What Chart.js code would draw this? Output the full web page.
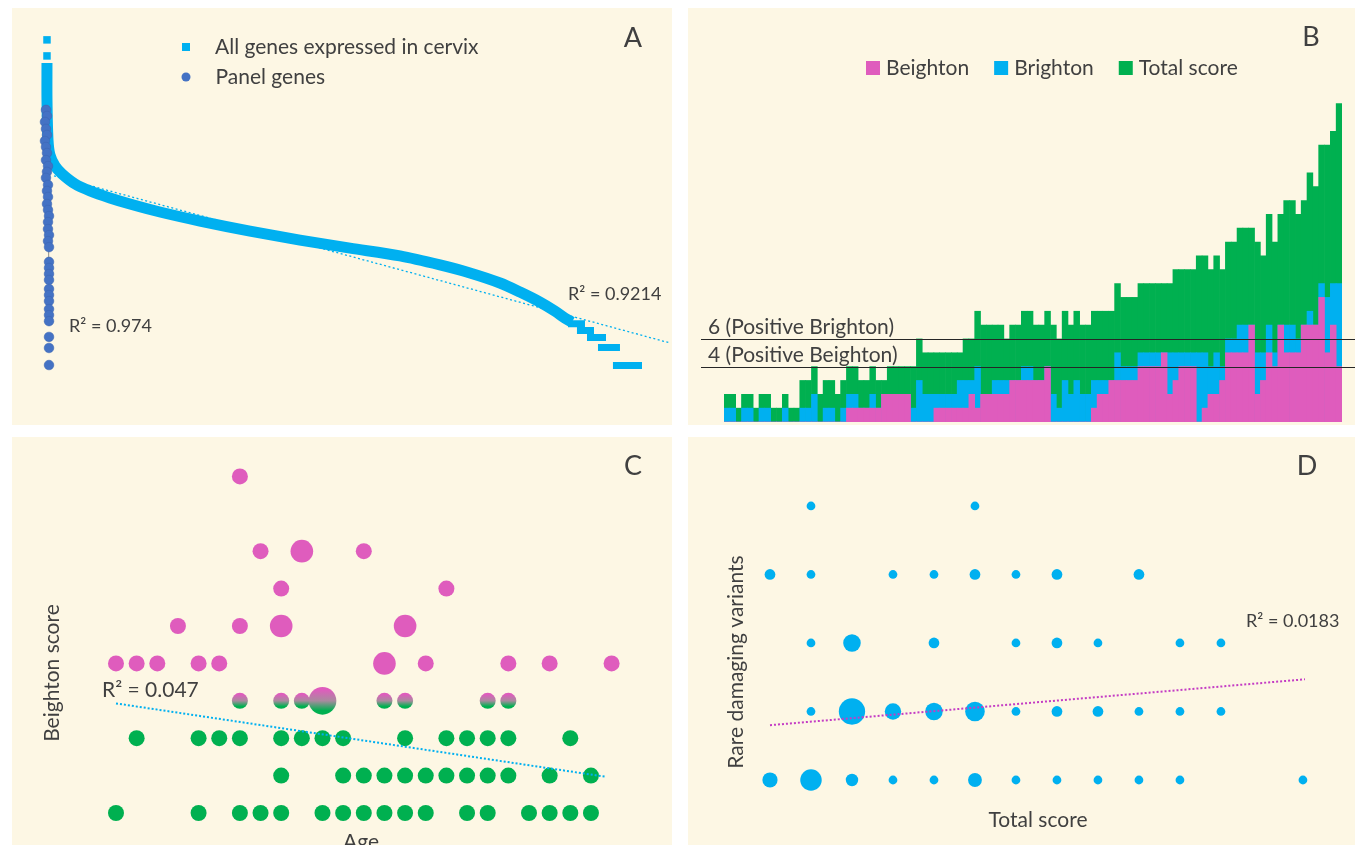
<!DOCTYPE html>
<html>
<head>
<meta charset="utf-8">
<script src="https://cdn.jsdelivr.net/npm/chart.js@4.4.1/dist/chart.umd.min.js"></script>
<style>
  body { margin: 0; background: #fff; width: 1357px; height: 845px; overflow: hidden; position: relative; }
  .panel { position: absolute; background: #fdf7e4; overflow: hidden; }
  canvas { display: block; }
</style>
</head>
<body>
<div class="panel" style="left:12px;top:8px;width:660px;height:417px"><canvas id="chartA" width="660" height="417"></canvas></div>
<div class="panel" style="left:688px;top:8px;width:667px;height:417px"><canvas id="chartB" width="667" height="417"></canvas></div>
<div class="panel" style="left:12px;top:437px;width:660px;height:408px"><canvas id="chartC" width="660" height="408"></canvas></div>
<div class="panel" style="left:688px;top:437px;width:667px;height:408px"><canvas id="chartD" width="667" height="408"></canvas></div>

<script>
// ---- A: expression rank curve (x = rank percentile, y = log expression) ----
var topRank = [0.17, 0.17];
var topExpr = [13.0, 12.36];
var geneRank = [0.17, 0.17, 0.34, 0.67, 1.52, 2.69, 4.88, 7.41, 10.77, 14.14, 19.19, 25.93, 34.34, 42.76, 51.18, 59.60, 66.33, 71.38, 76.43, 79.80, 83.16, 85.69, 87.37, 88.55];
var geneExpr = [12.08, 10.61, 9.01, 8.41, 7.97, 7.66, 7.26, 6.98, 6.70, 6.46, 6.14, 5.78, 5.38, 5.02, 4.70, 4.39, 4.03, 3.71, 3.31, 2.95, 2.55, 2.19, 1.91, 1.75];
var tailStart = [87.88, 89.39, 91.08, 92.93, 95.45];
var tailEnd = [90.74, 92.26, 94.28, 96.63, 100.34];
var tailExpr = [1.69, 1.42, 1.14, 0.74, 0.02];
var panelRank = [0, 0.17, -0.17, 0, 0.17, -0.17, 0, 0.17, 0, 0.34, 0.17, 0, 0.34, 0.17, 0.34, 0.17, 0.34, 0.51, 0.34, 0.34, 0.51, 0.34, 0.51, 0.51, 0.51, 0.51, 0.51, 0.51, 0.51, 0.51, 0.51, 0.51, 0.51, 0.51, 0.51, 0.51];
var panelExpr = [10.21, 9.97, 9.73, 9.45, 9.21, 8.97, 8.73, 8.49, 8.21, 7.97, 7.74, 7.50, 7.22, 6.98, 6.74, 6.46, 6.22, 5.98, 5.74, 5.46, 5.22, 4.98, 4.74, 4.15, 3.91, 3.67, 3.43, 3.07, 2.83, 2.59, 2.27, 2.03, 1.79, 1.16, 0.72, 0.04];
var panelFitRank = [0.34, 0.51];
var panelFitExpr = [10.4, 1.6];
var allFitRank = [1.35, 105.05];
var allFitExpr = [7.58, 0.92];

// ---- B: scores per participant ----
var beighton = [0,0,0,0,0,0,0,0,0,0, 0,0,0,0,0,0,0,0,0,0, 0,1,1,1,1,1,1,2,2,2, 2,2,0,0,0,0,1,1,1,1,
  1,1,2,1,2,2,2,2,2,3, 3,3,3,3,3,4,0,0,0,0, 0,0,0,1,2,2,3,3,3,3, 3,4,4,4,4,5,2,3,4,4,
  4,0,1,2,2,3,5,5,5,5, 7,2,3,5,4,7,5,5,5,7, 7,7,9,5,7,4];
var brighton = [1,1,0,1,1,0,1,1,0,0, 1,0,0,1,1,2,0,1,1,0, 1,2,2,1,1,2,1,2,2,2, 2,2,1,3,2,2,2,2,2,2,
  3,3,3,4,2,2,3,3,3,3, 3,4,4,3,3,4,2,1,3,2, 3,2,2,3,3,3,3,5,4,4, 4,5,5,5,5,5,5,5,5,5,
  5,5,5,4,5,4,6,6,7,7, 7,5,5,7,5,7,7,7,6,7, 8,7,10,9,10,10];
var totalScore = [2,2,1,2,2,1,2,2,1,1, 2,1,1,3,3,4,2,3,3,2, 3,4,4,3,3,4,3,3,4,4, 4,4,4,6,5,5,5,5,5,5,
  5,6,6,8,7,7,7,7,6,7, 7,8,8,7,7,8,7,6,8,7, 8,7,7,8,8,8,8,10,9,9, 9,10,10,10,10,10,10,11,11,11,
  11,12,12,11,12,11,13,13,14,14, 14,13,12,15,13,15,16,16,15,16, 18,17,20,20,21,23];
var thresholds = [4, 6];
var thresholdLabels = ['4 (Positive Beighton)', '6 (Positive Brighton)'];

// ---- C: Beighton score by age group ----
var cAge = [0,4,6,7,8,10,11,12,13,14,15,17,18,20,21,22,23,
  8,11,12,13,14,15,16,17,18,19,21,23,
  1,4,5,6,8,9,10,11,14,16,17,18,19,22,
  6,8,9,10,13,14,18,19,
  0,1,2,4,5,13,15,19,21,24,
  3,6,8,14, 8,16, 7,9,12, 6];
var cScore = [0,0,0,0,0,0,0,0,0,0,0,0,0,0,0,0,0,
  1,1,1,1,1,1,1,1,1,1,1,1,
  2,2,2,2,2,2,2,2,2,2,2,2,2,2,
  3,3,3,3,3,3,3,3,
  4,4,4,4,4,4,4,4,4,4,
  5,5,5,5, 6,6, 7,7,7, 9];
var cCount = [1,1,1,1,1,1,1,1,1,1,1,1,1,1,1,1,1,
  1,1,1,1,1,1,1,1,1,1,1,1,
  1,1,1,1,1,1,1,1,1,1,1,1,1,1,
  1,1,1,3,1,1,1,1,
  1,1,1,1,1,2,1,1,1,1,
  1,1,2,2, 1,1, 1,2,1, 1];
var cFitAge = [0, 23.7];
var cFitScore = [2.93, 0.97];

// ---- D: rare damaging variants by total score ----
var dTotal = [0,1,2,3,4,5,6,7,8,9,10,13, 1,2,3,4,5,6,7,8,9,10,11, 1,2,4,6,7,8,10,11, 0,1,3,4,5,6,7,9, 1,5];
var dVariants = [0,0,0,0,0,0,0,0,0,0,0,0, 1,1,1,1,1,1,1,1,1,1,1, 2,2,2,2,2,2,2,2, 3,3,3,3,3,3,3,3, 4,4];
var dCount = [6,12,4,2,2,5,2,2,2,2,2,2, 2,18,7,8,10,2,3,3,2,2,2, 2,8,3,2,3,2,2,2, 3,2,2,2,3,2,3,3, 2,2];
var dFitTotal = [0, 13.05];
var dFitVariants = [0.80, 1.47];

var FONT = "Lato, 'Open Sans', sans-serif";
var TEXT = '#404040';
var CYAN = '#00b0f0';
var NAVY = '#4472c4';
var GREEN = '#00b050';
var PINK = '#df5cbd';

function pts(xs, ys) {
  return xs.map(function (x, i) { return { x: x, y: ys[i] }; });
}

// text labels (letters, R² values, axis titles)
var panelText = {
  id: 'panelText',
  afterDraw: function (chart, args, opts) {
    var ctx = chart.ctx;
    (opts.items || []).forEach(function (t) {
      ctx.save();
      ctx.font = (t.size || 21) + 'px ' + FONT;
      ctx.fillStyle = TEXT;
      ctx.textAlign = t.align || 'left';
      ctx.textBaseline = 'middle';
      ctx.translate(t.x, t.y);
      if (t.rotate) ctx.rotate(t.rotate * Math.PI / 180);
      ctx.fillText(t.text, 0, 0);
      ctx.restore();
    });
  }
};

// legend drawn from the datasets' own labels and colours
var boxLegend = {
  id: 'boxLegend',
  afterDraw: function (chart, args, opts) {
    if (!opts.items) return;
    var ctx = chart.ctx;
    var x = opts.x, y = opts.y;
    ctx.save();
    ctx.font = opts.size + 'px ' + FONT;
    ctx.textBaseline = 'middle';
    opts.items.forEach(function (it) {
      var ds = chart.data.datasets[it.dataset];
      var label = it.label || ds.label;
      ctx.fillStyle = ds.backgroundColor;
      if (it.marker === 'circle') {
        ctx.beginPath();
        ctx.arc(x, y, it.box / 2, 0, Math.PI * 2);
        ctx.fill();
      } else {
        ctx.fillRect(x - it.box / 2, y - it.box / 2, it.box, it.box);
      }
      ctx.fillStyle = TEXT;
      ctx.fillText(label, x + it.box / 2 + opts.gap, y);
      if (opts.vertical) {
        y += opts.step;
      } else {
        x += it.box + opts.gap + ctx.measureText(label).width + opts.step;
      }
    });
    ctx.restore();
  }
};

// horizontal cut-off lines for panel B
var cutLines = {
  id: 'cutLines',
  afterDatasetsDraw: function (chart, args, opts) {
    if (!opts.values) return;
    var ctx = chart.ctx;
    var yScale = chart.scales.y;
    ctx.save();
    opts.values.forEach(function (v, i) {
      var y = Math.round(yScale.getPixelForValue(v)) + 0.5;
      ctx.strokeStyle = '#262626';
      ctx.lineWidth = 1.2;
      ctx.beginPath();
      ctx.moveTo(opts.from, y);
      ctx.lineTo(opts.to, y);
      ctx.stroke();
      ctx.font = opts.size + 'px ' + FONT;
      ctx.fillStyle = TEXT;
      ctx.textBaseline = 'middle';
      ctx.fillText(opts.labels[i], opts.textX, y - 12);
    });
    ctx.restore();
  }
};

Chart.register(panelText, boxLegend, cutLines);

function baseOptions(xr, yr) {
  return {
    responsive: false,
    animation: false,
    events: [],
    layout: { autoPadding: false, padding: 0 },
    scales: {
      x: { type: 'linear', display: false, min: xr[0], max: xr[1] },
      y: { type: 'linear', display: false, min: yr[0], max: yr[1] }
    },
    plugins: { legend: { display: false }, tooltip: { enabled: false } }
  };
}

// ---------- A ----------
var tailData = [];
tailExpr.forEach(function (v, i) {
  tailData.push({ x: tailStart[i], y: v }, { x: tailEnd[i], y: v }, { x: tailEnd[i], y: null });
});

var optA = baseOptions([-5.72, 105.39], [-2.35, 14.27]);
optA.plugins.panelText = { items: [
  { text: 'A', x: 621, y: 30, size: 27, align: 'center' },
  { text: 'R\u00B2 = 0.974', x: 57, y: 318, size: 18 },
  { text: 'R\u00B2 = 0.9214', x: 556, y: 286, size: 18 }
] };
optA.plugins.boxLegend = { x: 174, y: 39, size: 21, gap: 25, step: 30, vertical: true, items: [
  { dataset: 3, marker: 'rect', box: 8, label: 'All genes expressed in cervix' },
  { dataset: 0, marker: 'circle', box: 9 }
] };

new Chart(document.getElementById('chartA'), {
  type: 'scatter',
  data: { datasets: [
    { label: 'Panel genes', data: pts(panelRank, panelExpr), pointStyle: 'circle', pointRadius: 4.8,
      backgroundColor: NAVY, borderColor: '#3d66b4', borderWidth: 0.6 },
    { label: 'Panel fit', data: pts(panelFitRank, panelFitExpr), showLine: true, borderColor: '#8a8a8a',
      borderWidth: 1, pointRadius: 0 },
    { label: 'All genes fit', data: pts(allFitRank, allFitExpr), showLine: true, borderColor: CYAN,
      borderWidth: 1.3, borderDash: [2, 2.5], pointRadius: 0, clip: false },
    { label: 'All genes expressed in cervix', data: pts(topRank, topExpr), pointStyle: 'rect', pointRadius: 5.3,
      backgroundColor: CYAN, borderWidth: 0 },
    { label: 'All genes curve', data: pts(geneRank, geneExpr), showLine: true, borderColor: CYAN, backgroundColor: CYAN,
      borderWidth: 11, pointRadius: 0, tension: 0.3, borderJoinStyle: 'round' },
    { label: 'All genes tail', data: tailData, showLine: true, spanGaps: false, borderColor: CYAN,
      borderWidth: 7, pointRadius: 0, clip: false }
  ] },
  options: optA
});

// ---------- B ----------
var optB = {
  responsive: false,
  animation: false,
  events: [],
  layout: { autoPadding: false, padding: { left: 36, right: 13, top: 0, bottom: 3 } },
  scales: {
    x: { stacked: true, display: false },
    y: { stacked: false, display: false, min: 0, max: 29.9 }
  },
  plugins: {
    legend: { display: false },
    tooltip: { enabled: false },
    panelText: { items: [{ text: 'B', x: 623, y: 29, size: 27, align: 'center' }] },
    boxLegend: { x: 185, y: 60, size: 21, gap: 6, step: 25, items: [
      { dataset: 0, box: 14 }, { dataset: 1, box: 14 }, { dataset: 2, box: 14 }
    ] },
    cutLines: { values: thresholds, labels: thresholdLabels, from: 13, to: 667, textX: 20, size: 21 }
  }
};

new Chart(document.getElementById('chartB'), {
  type: 'bar',
  data: {
    labels: totalScore.map(function (_, i) { return i + 1; }),
    datasets: [
      { label: 'Beighton', data: beighton, backgroundColor: PINK, barPercentage: 1, categoryPercentage: 1, borderWidth: 0 },
      { label: 'Brighton', data: brighton, backgroundColor: CYAN, barPercentage: 1, categoryPercentage: 1, borderWidth: 0 },
      { label: 'Total score', data: totalScore, backgroundColor: GREEN, barPercentage: 1, categoryPercentage: 1, borderWidth: 0 }
    ]
  },
  options: optB
});

// ---------- C ----------
// score 3 bubbles fade from pink (top) to green (bottom)
function mixedFill(c) {
  var raw = c.raw;
  if (!raw || raw.y === undefined) return GREEN;
  if (raw.y >= 4) return PINK;
  if (raw.y <= 2) return GREEN;
  var scale = c.chart.scales && c.chart.scales.y;
  var y = scale ? scale.getPixelForValue(raw.y) : NaN;
  var r = raw.r || 8;
  if (!isFinite(y)) return PINK;
  var g = c.chart.ctx.createLinearGradient(0, y - r, 0, y + r);
  g.addColorStop(0.1, PINK);
  g.addColorStop(0.5, '#a98a9e');
  g.addColorStop(0.85, GREEN);
  return g;
}

var optC = baseOptions([-5.036, 26.925], [-0.856, 10.053]);
optC.plugins.panelText = { items: [
  { text: 'C', x: 621, y: 29, size: 27, align: 'center' },
  { text: 'R\u00B2 = 0.047', x: 90, y: 253, size: 21 },
  { text: 'Beighton score', x: 40, y: 236, size: 21, align: 'center', rotate: -90 },
  { text: 'Age', x: 349, y: 405, size: 21, align: 'center' }
] };

new Chart(document.getElementById('chartC'), {
  type: 'bubble',
  data: { datasets: [
    { label: 'Trend', type: 'scatter', data: pts(cFitAge, cFitScore), showLine: true, borderColor: CYAN,
      borderWidth: 2, borderDash: [2, 2], pointRadius: 0 },
    { label: 'Beighton score',
      data: cAge.map(function (a, i) { return { x: a, y: cScore[i], r: 8 * Math.sqrt(cCount[i]) }; }),
      backgroundColor: mixedFill, borderWidth: 0 }
  ] },
  options: optC
});

// ---------- D ----------
var optD = baseOptions([-2, 14.27], [-0.949, 5.007]);
optD.plugins.panelText = { items: [
  { text: 'D', x: 619, y: 29, size: 27, align: 'center' },
  { text: 'R\u00B2 = 0.0183', x: 558, y: 184, size: 18 },
  { text: 'Rare damaging variants', x: 48, y: 225, size: 21, align: 'center', rotate: -90 },
  { text: 'Total score', x: 350, y: 383, size: 21, align: 'center' }
] };

new Chart(document.getElementById('chartD'), {
  type: 'bubble',
  data: { datasets: [
    { label: 'Trend', type: 'scatter', data: pts(dFitTotal, dFitVariants), showLine: true, borderColor: '#c43cc4',
      borderWidth: 2, borderDash: [2, 2], pointRadius: 0 },
    { label: 'Rare damaging variants',
      data: dTotal.map(function (t, i) { return { x: t, y: dVariants[i], r: 3.1 * Math.sqrt(dCount[i]) }; }),
      backgroundColor: CYAN, borderWidth: 0 }
  ] },
  options: optD
});
</script>
</body>
</html>
